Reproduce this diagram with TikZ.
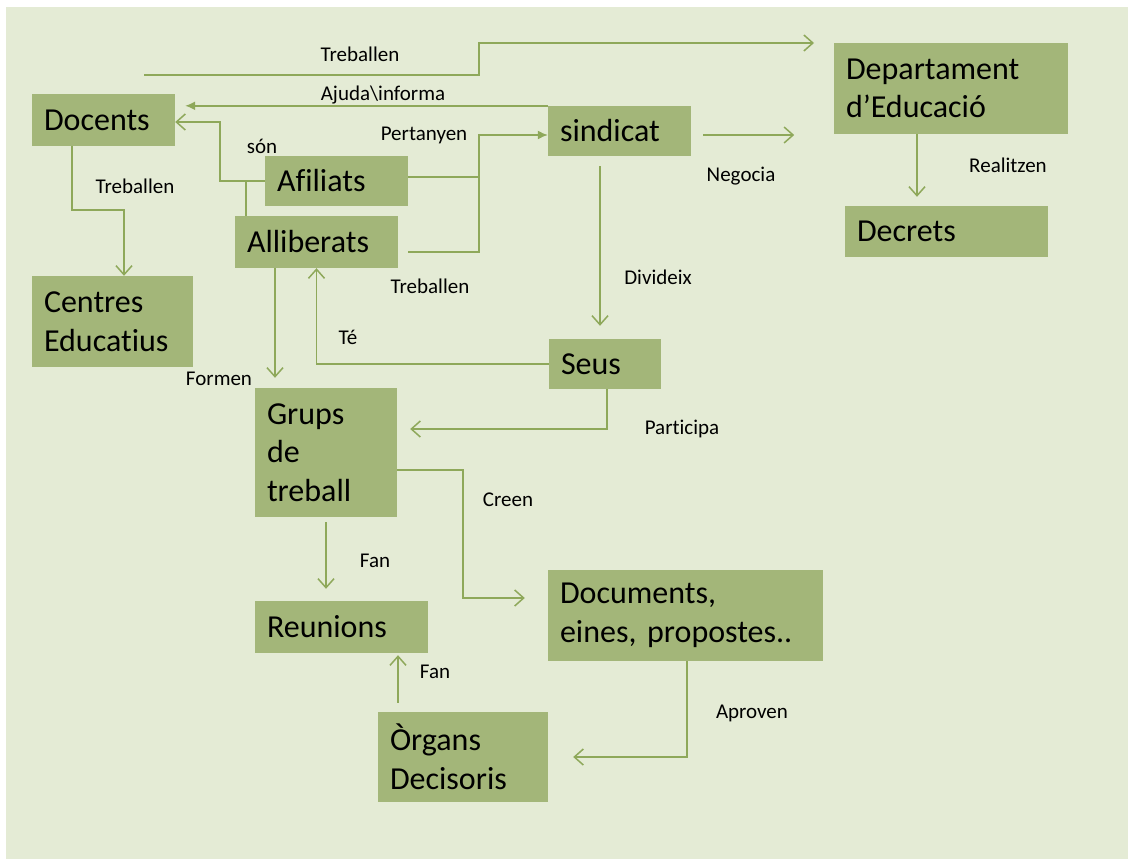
\documentclass[tikz,border=0pt]{standalone}
\usepackage{fontspec}
\setmainfont{Carlito}[Ligatures=NoCommon]
\usetikzlibrary{arrows.meta}
\definecolor{bggreen}{HTML}{E4EBD5}
\definecolor{boxgreen}{HTML}{A3B679}
\definecolor{linegreen}{HTML}{8EA85A}

\begin{document}
\begin{tikzpicture}[x=1pt,y=-1pt,
        box/.style={fill=boxgreen,align=left,inner xsep=12pt,inner ysep=0pt,font=\fontsize{32}{38.5}\selectfont},
        lbl/.style={font=\fontsize{21}{25}\selectfont,inner sep=0pt},
        link/.style={draw=linegreen,line width=1.5pt},
        oarrow/.style={link,-{Straight Barb[length=9pt,width=16pt]}},
        farrow/.style={link,-{Latex[length=10pt,width=9pt]}}]
        \useasboundingbox (0,0) rectangle (1128,859);
        \fill[white] (0,0) rectangle (1128,859);
        \fill[bggreen] (6,7) rectangle (1128,859);

        \node[box,text width=119pt,minimum height=52pt] (Doc) at (103.5,120) {Docents};
        \node[box,text width=119pt,minimum height=50pt] (Afi) at (336.5,181) {Afiliats};
        \node[box,text width=139pt,minimum height=52pt] (Alli) at (316.5,242) {Alliberats};
        \node[box,text width=119pt,minimum height=50pt] (Sind) at (619.5,131) {sindicat};
        \node[box,text width=210pt,minimum height=91pt] (Dept) at (951,88.5) {Departament\\d’Educació};
        \node[box,text width=179pt,minimum height=51pt] (Decr) at (946.5,231.5) {Decrets};
        \node[box,text width=137pt,minimum height=91pt] (Cent) at (112.5,321.5) {Centres\\Educatius};
        \node[box,text width=118pt,minimum height=129pt] (Grups) at (326,452.5) {Grups\\de\\treball};
        \node[box,text width=88pt,minimum height=50pt] (Seus) at (605,364) {Seus};
        \node[box,text width=149pt,minimum height=52pt] (Reun) at (341.5,627) {Reunions};
        \node[box,text width=251pt,minimum height=91pt] (Docu) at (685.5,615.5) {Documents,\\eines, propostes..};
        \node[box,text width=146pt,minimum height=90pt] (Org) at (463,757) {Òrgans\\Decisoris};

        \node[lbl] (lTrebDept) at (360,54) {Treballen};
        \node[lbl] (lAjuda) at (383,95) {Ajuda\textbackslash informa};
        \node[lbl] (lSon) at (262,146) {són};
        \node[lbl] (lPert) at (424,135) {Pertanyen};
        \node[lbl] (lTrebCent) at (135,186) {Treballen};
        \node[lbl] (lNeg) at (741,176) {Negocia};
        \node[lbl] (lReal) at (1008,165) {Realitzen};
        \node[lbl] (lDiv) at (658,277) {Divideix};
        \node[lbl] (lTrebAlli) at (430,286) {Treballen};
        \node[lbl] (lTe) at (348,337) {Té};
        \node[lbl] (lFormen) at (219,379) {Formen};
        \node[lbl] (lPart) at (682,429) {Participa};
        \node[lbl] (lCreen) at (508,500) {Creen};
        \node[lbl] (lFanGrups) at (375,561) {Fan};
        \node[lbl] (lFanOrg) at (435,672) {Fan};
        \node[lbl] (lAprov) at (752,713) {Aproven};

        \coordinate (TrS) at (144,75);
        \coordinate (TrE) at (814,43);
        \coordinate (PJ) at (479,135);

        \draw[oarrow] (TrS) -- ++(335,0) |- (TrE);
        \draw[farrow,shorten >=10pt] (Sind.north west) -- (Sind.north west -| Doc.east);
        \draw[oarrow] (Afi.west) -- ++(-45,0) |- ([yshift=-2pt]Doc.east);
        \draw[link] ([xshift=11pt]Alli.north west) -- ([xshift=11pt]Alli.north west |- Afi.west);
        \draw[link] ([yshift=4pt]Afi.east) -- ([yshift=4pt]Afi.east -| PJ);
        \draw[farrow] ([xshift=10pt,yshift=-10pt]Alli.east) -| (PJ) -- (PJ -| Sind.west);
        \draw[oarrow] ([xshift=12pt,yshift=-4pt]Sind.east) -- ++(91,0);
        \draw[oarrow,shorten >=9pt] ([xshift=-34pt]Dept.south) -- ([xshift=-34pt]Dept.south |- Decr.north);
        \draw[oarrow] ([xshift=-31.5pt]Doc.south) -- ++(0,64) -| ([xshift=11.5pt]Cent.north);
        \draw[oarrow,shorten <=10pt,shorten >=13pt] ([xshift=-19.5pt]Sind.south) -- ([xshift=-19.5pt]Sind.south |- Seus.north);
        \draw[oarrow] (Seus.west) -| (Alli.south);
        \draw[oarrow,shorten >=10pt] ([xshift=-41.5pt]Alli.south) -- ([xshift=-41.5pt]Alli.south |- Grups.north);
        \draw[oarrow,shorten >=13pt] ([xshift=2pt]Seus.south) |- ([yshift=23.5pt]Grups.east);
        \draw[oarrow,shorten >=23pt] ([yshift=-17.5pt]Grups.east) -- ++(66,0) |- ([yshift=17.5pt]Docu.west);
        \draw[oarrow,shorten <=5pt,shorten >=12pt] (Grups.south) -- (Grups.south |- Reun.north);
        \draw[oarrow,shorten <=9pt,shorten >=2pt] ([xshift=-65pt]Org.north) -- ([xshift=-65pt]Org.north |- Reun.south);
        \draw[oarrow,shorten >=25pt] ([xshift=1.5pt]Docu.south) |- (Org.east);
      \end{tikzpicture}
\end{document}
